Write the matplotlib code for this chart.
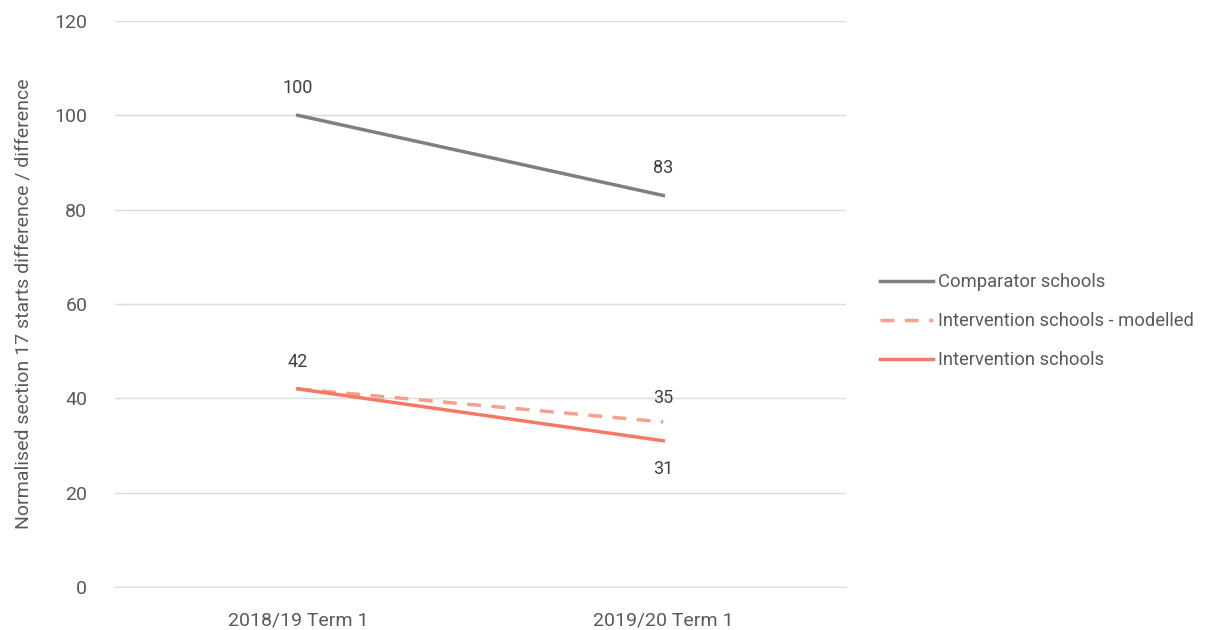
import matplotlib.pyplot as plt

terms = ['2018/19 Term 1', '2019/20 Term 1']
comparator = [100, 83]
modelled = [42, 35]
intervention = [42, 31]

plt.rcParams['font.family'] = ['Roboto', 'DejaVu Sans']
txt = '#595959'

fig = plt.figure(figsize=(12.11, 6.3), dpi=100)
ax = fig.add_axes([0.095, 0.0683, 0.6036, 0.8984])

x = list(range(len(terms)))
l1, = ax.plot(x, comparator, color='#7f7f7f', lw=2.5, label='Comparator schools')
l2, = ax.plot(x, modelled, color='#f8a090', lw=2.5, ls=(0, (4, 3)), label='Intervention schools - modelled')
l3, = ax.plot(x, intervention, color='#f47a66', lw=2.5, label='Intervention schools')

# data labels
lab = dict(ha='center', fontsize=13, color='#404040', textcoords='offset points')
for i, v in enumerate(comparator):
    ax.annotate(str(v), (i, v), xytext=(0, 13), va='bottom', **lab)
ax.annotate(str(modelled[0]), (0, modelled[0]), xytext=(0, 13), va='bottom', **lab)
ax.annotate(str(modelled[1]), (1, modelled[1]), xytext=(0, 11), va='bottom', **lab)
ax.annotate(str(intervention[1]), (1, intervention[1]), xytext=(0, -14), va='top', **lab)

ax.set_xlim(-0.5, 1.5)
ax.set_ylim(0, 120)
ax.set_yticks(range(0, 121, 20))
ax.set_xticks(x)
ax.set_xticklabels(terms)
ax.grid(axis='y', color='#d5dfdf', lw=1)
ax.set_axisbelow(True)
for s in ['top', 'right', 'left']:
    ax.spines[s].set_visible(False)
ax.spines['bottom'].set_color('#d9d9d9')
ax.tick_params(axis='both', length=0, labelsize=14, colors=txt)
ax.tick_params(axis='y', pad=20)
ax.tick_params(axis='x', pad=18)
ax.set_ylabel('Normalised section 17 starts difference / difference', fontsize=14, color=txt, labelpad=16)

fig.legend(handles=[l1, l2, l3], loc='center left', bbox_to_anchor=(0.713, 0.49),
           frameon=False, fontsize=13.2, labelcolor=txt, handlelength=2.9,
           handletextpad=0.25, labelspacing=1.15)

fig.savefig('out.png', dpi=100)
